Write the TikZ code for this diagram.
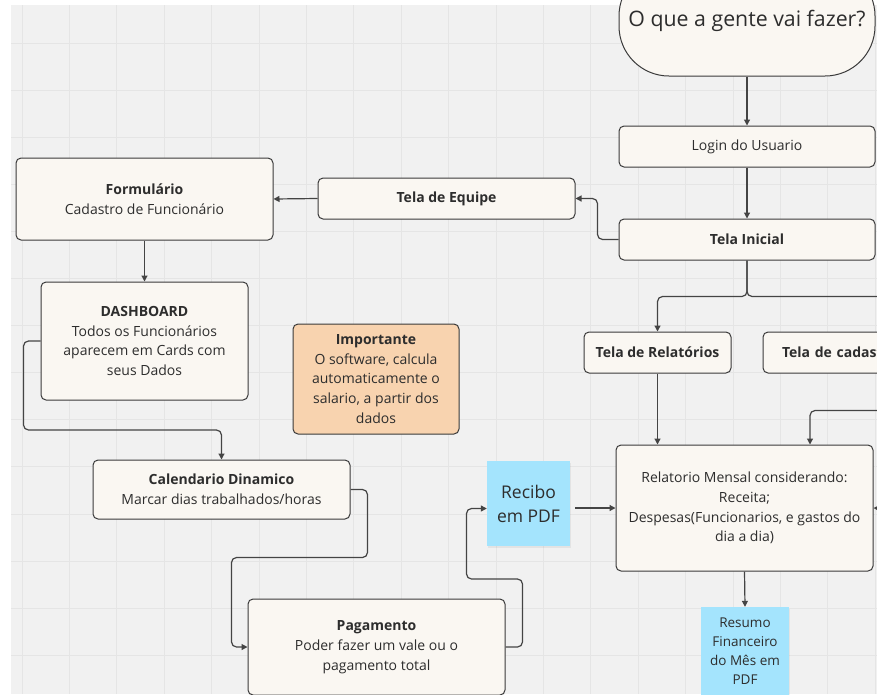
\documentclass[tikz,border=0pt]{standalone}
\usepackage{fontspec}
\setmainfont{Open Sans}
\usepackage{tikz}
\usetikzlibrary{arrows.meta,shadows}

\definecolor{paper}{RGB}{241,241,241}
\definecolor{gridc}{RGB}{229,229,229}
\definecolor{boxfill}{RGB}{250,247,242}
\definecolor{boxline}{RGB}{58,58,58}
\definecolor{conn}{RGB}{68,68,68}
\definecolor{txt}{RGB}{45,45,45}
\definecolor{orangenote}{RGB}{248,211,175}
\definecolor{sticky}{RGB}{164,228,253}

\begin{document}
\begin{tikzpicture}[x=1pt,y=-1pt,
	box/.style={draw=boxline, fill=boxfill, line width=1pt, rounded corners=5pt, align=center, text=txt, font=\fontsize{14}{19.7}\selectfont},
	note/.style={fill=sticky, align=center, text=txt, drop shadow={opacity=0.12, shadow xshift=1pt, shadow yshift=-1.5pt}},
	arr/.style={draw=conn, line width=1.2pt, rounded corners=5pt, -{Triangle[length=6pt,width=6pt]}},
	gridline/.style={draw=gridc, line width=1pt}]
	\path[use as bounding box, clip] (0,0) rectangle (877,694);
	\fill[white] (0,0) rectangle (877,694);
	\fill[paper] (11,5) rectangle (877,694);
	\foreach \gx in {22,69.4,...,877}
		\draw[gridline] (\gx,5) -- (\gx,694);
	\foreach \gy in {43,90.1,...,694}
		\draw[gridline] (11,\gy) -- (877,\gy);

	\node[box, minimum width=256, minimum height=110, rounded corners=50pt, font=\fontsize{21.3}{26}\selectfont] (start) at (747,21) {O que a gente vai fazer?};
	\node[box, minimum width=256, minimum height=41] (login) at (747,146.5) {Login do Usuario};
	\node[box, minimum width=256, minimum height=41] (ini) at (747,239.5) {\textbf{Tela Inicial}};
	\node[box, minimum width=257, minimum height=41] (equipe) at (446.5,198.5) {\textbf{Tela de Equipe}};
	\node[box, minimum width=257, minimum height=82] (form) at (144.5,199) {\textbf{Formulário}\\Cadastro de Funcionário};
	\node[box, minimum width=207, minimum height=118] (dash) at (144.5,341) {\textbf{DASHBOARD}\\Todos os Funcionários\\aparecem em Cards com\\seus Dados};
	\node[box, fill=orangenote, minimum width=166, minimum height=110] (imp) at (376,379) {\textbf{Importante}\\O software, calcula\\automaticamente o\\salario, a partir dos\\dados};
	\node[box, minimum width=257, minimum height=59] (cal) at (221.5,489.5) {\textbf{Calendario Dinamico}\\Marcar dias trabalhados/horas};
	\node[box, minimum width=257, minimum height=96] (pag) at (376.5,647) {\textbf{Pagamento}\\Poder fazer um vale ou o\\pagamento total};
	\node[note, minimum width=83, minimum height=85, font=\fontsize{17.5}{24}\selectfont] (recibo) at (528.5,503.5) {Recibo\\em PDF};
	\node[box, minimum width=147, minimum height=41] (telarel) at (657.5,352.5) {\textbf{Tela de Relatórios}};
	\node[box, minimum height=41, text width=219pt, inner xsep=19pt, align=left] (cad) at (891.5,352.5) {\textbf{Tela de cadastro}};
	\node[box, minimum width=257, minimum height=126] (rel) at (744.5,508) {Relatorio Mensal considerando:\\Receita;\\Despesas(Funcionarios, e gastos do\\dia a dia)};
	\node[note, minimum width=88, minimum height=88, font=\fontsize{13.5}{19}\selectfont] (resumo) at (745,651) {Resumo\\Financeiro\\do Mês em\\PDF};
	\coordinate (outR) at (900,509);

	\draw[arr] (start.south) -- (login.north);
	\draw[arr] (login.south) -- (ini.north);
	\draw[arr] (ini.west) -- ++(-21,0) |- (equipe.east);
	\draw[arr] (equipe.west) -- (form.east);
	\draw[arr] (form.south) -- (dash.north);
	\draw[arr] (dash.west) -- ++(-17,0) -- ++(0,89) -| (cal.north);
	\draw[arr] (cal.east) -- ++(17,0) -- ++(0,68) -- ++(-136,0) |- (pag.west);
	\draw[arr] (pag.east) -- ++(17,0) -- ++(0,-68) -- ++(-56,0) |- ([yshift=-5pt]recibo.west);
	\draw[arr, shorten <=5pt] (recibo.east |- rel.west) -- (rel.west);
	\draw[arr] (ini.south) -- ++(0,36) -| (telarel.north);
	\draw[arr] (ini.south) -- ++(0,36) -| (cad.north);
	\draw[arr] (telarel.south) -- (telarel.south |- rel.north);
	\draw[arr] (cad.south) -- ++(0,37) -| ([xshift=65.5pt]rel.north);
	\draw[arr] (outR) -- (rel.east);
	\draw[arr] (rel.south) -- (resumo.north);
\end{tikzpicture}
\end{document}
